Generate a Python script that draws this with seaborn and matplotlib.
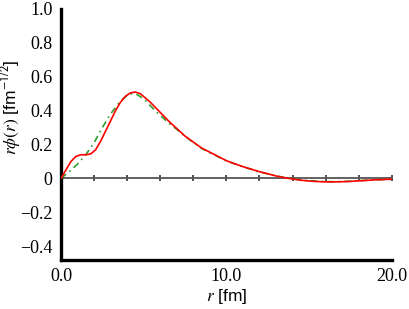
import numpy as np
import pandas as pd
import matplotlib
matplotlib.use("Agg")
import matplotlib.pyplot as plt
import seaborn as sns
from matplotlib.ticker import FuncFormatter

# red solid curve
r_red = [0, 0.3, 0.6, 0.9, 1.2, 1.5, 1.8, 2.1, 2.4, 2.7, 3.0, 3.3, 3.6, 3.9, 4.2, 4.5,
         4.8, 5.1, 5.4, 5.8, 6.2, 6.6, 7.0, 7.5, 8.0, 8.5, 9.0, 9.5, 10.0, 10.5, 11.0,
         11.5, 12.0, 12.5, 13.0, 13.5, 14.0, 14.5, 15.0, 15.5, 16.0, 16.5, 17.0, 17.5,
         18.0, 18.5, 19.0, 19.5, 20.0]
phi_red = [0, 0.05, 0.10, 0.13, 0.14, 0.14, 0.145, 0.17, 0.22, 0.28, 0.34, 0.40, 0.45,
           0.485, 0.505, 0.51, 0.50, 0.475, 0.45, 0.41, 0.37, 0.33, 0.295, 0.25, 0.215,
           0.18, 0.155, 0.13, 0.105, 0.087, 0.07, 0.055, 0.04, 0.028, 0.015, 0.005,
           -0.003, -0.01, -0.015, -0.018, -0.02, -0.02, -0.019, -0.017, -0.014, -0.011,
           -0.008, -0.006, -0.004]

# green dash-dot curve
r_green = [0, 0.5, 1.0, 1.5, 2.0, 2.5, 3.0, 3.5, 4.0, 4.3, 4.6, 5.0, 5.4, 5.8, 6.2, 6.6,
           7.0, 7.5, 8.0, 8.5, 9.0, 9.5, 10.0, 10.5, 11.0, 11.5, 12.0, 12.5, 13.0, 13.5,
           14.0, 14.5, 15.0, 15.5, 16.0, 16.5, 17.0, 17.5, 18.0, 18.5, 19.0, 19.5, 20.0]
phi_green = [0, 0.04, 0.085, 0.14, 0.21, 0.30, 0.38, 0.445, 0.49, 0.50, 0.495, 0.47, 0.43,
             0.39, 0.355, 0.32, 0.29, 0.25, 0.212, 0.178, 0.152, 0.128, 0.104, 0.086,
             0.069, 0.054, 0.04, 0.027, 0.016, 0.006, -0.002, -0.008, -0.013, -0.016,
             -0.018, -0.019, -0.018, -0.016, -0.013, -0.01, -0.008, -0.006, -0.005]

sns.set_style("white")
plt.rcParams["font.family"] = ["Liberation Serif", "DejaVu Serif"]
plt.rcParams["mathtext.fontset"] = "stix"
plt.rcParams["text.color"] = "black"
plt.rcParams["xtick.color"] = "black"
plt.rcParams["ytick.color"] = "black"
plt.rcParams["axes.labelcolor"] = "black"

fig = plt.figure(figsize=(4.09, 3.09), dpi=100)
ax = fig.add_axes([0.149, 0.159, 0.809, 0.812])

sns.lineplot(x=r_green, y=phi_green, ax=ax, color="#2e9e2e", lw=1.2,
             linestyle=(0, (4, 2.5, 1, 2.5)), sort=False, estimator=None, zorder=3)
sns.lineplot(x=r_red, y=phi_red, ax=ax, color="red", lw=1.2,
             sort=False, estimator=None, zorder=4)

ax.set_xlim(0, 20)
ax.set_ylim(-0.48, 1.0)

for s in ["top", "right"]:
    ax.spines[s].set_visible(False)
for s in ["left", "bottom"]:
    ax.spines[s].set_color("black")
    ax.spines[s].set_linewidth(2.4)

ax.set_xticks([0, 10, 20])
ax.set_yticks(np.arange(-0.4, 1.01, 0.2))
ax.xaxis.set_major_formatter(FuncFormatter(lambda v, p: f"{v:.1f}"))
ax.yaxis.set_major_formatter(FuncFormatter(
    lambda v, p: "0" if abs(v) < 1e-9 else f"{v:.1f}".replace("-", "\u2212")))
ax.tick_params(axis="y", direction="in", length=4, width=2,
               labelsize=13, pad=6)
ax.tick_params(axis="x", direction="in", length=4, width=1.5,
               labelsize=13, pad=6)

# zero line with small ticks
zero = ax.secondary_xaxis(0, transform=ax.transData)
zero.spines["bottom"].set_color("#555555")
zero.spines["bottom"].set_linewidth(1.3)
zero.set_xticks(np.arange(0, 21, 2))
zero.tick_params(direction="inout", length=5, width=1.2, color="#333333",
                 labelbottom=False)

ax.set_xlabel(r"$r$ [fm]", family="Liberation Sans", fontsize=12.5, labelpad=1)
ax.set_ylabel(r"$r\phi(r)$ [fm$^{\mathsf{-1/2}}$]", family="Liberation Sans",
              fontsize=12.5)
ax.yaxis.set_label_coords(-0.115, 0.61)

fig.savefig("out.png", dpi=100)
